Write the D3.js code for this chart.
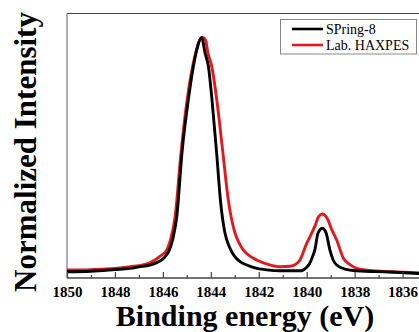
<!DOCTYPE html>
<html>
<head>
<meta charset="utf-8">
<script src="https://cdn.jsdelivr.net/npm/d3@7"></script>
<style>
    html, body { margin: 0; padding: 0; background: #fff; }
    svg { display: block; font-family: "Liberation Serif", "Times New Roman", serif; }
</style>
</head>
<body>
<svg class="xps"></svg>
<script>
// Binding energy (eV) and normalized intensity
const springE = [1850.0, 1849.0, 1848.0, 1847.37, 1847.0, 1846.54, 1846.3, 1846.05, 1845.88, 1845.73,
    1845.58, 1845.42, 1845.2, 1844.94, 1844.73, 1844.59, 1844.38, 1844.24, 1844.1, 1843.95,
    1843.76, 1843.6, 1843.41, 1843.24, 1843.1, 1842.95, 1842.75, 1842.5, 1842.16, 1841.67,
    1841.11, 1840.28, 1840.15, 1840.0, 1839.89, 1839.79, 1839.65, 1839.53, 1839.34, 1839.19,
    1839.03, 1838.9, 1838.75, 1838.4, 1837.91, 1836.52, 1835.31];
const springI = [0.026, 0.028, 0.035, 0.040, 0.046, 0.054, 0.062, 0.075, 0.092, 0.116,
    0.165, 0.255, 0.524, 0.740, 0.879, 0.948, 1.0, 0.936, 0.879, 0.740,
    0.524, 0.324, 0.187, 0.133, 0.104, 0.083, 0.066, 0.054, 0.042, 0.034,
    0.030, 0.030, 0.033, 0.045, 0.058, 0.080, 0.121, 0.186, 0.207, 0.187,
    0.116, 0.076, 0.054, 0.037, 0.030, 0.025, 0.019];

const labE = [1850.0, 1849.0, 1848.0, 1847.37, 1846.83, 1846.55, 1846.33, 1846.1, 1845.84, 1845.68,
    1845.49, 1845.24, 1844.99, 1844.76, 1844.6, 1844.43, 1844.33, 1844.22, 1844.12, 1843.96,
    1843.75, 1843.5, 1843.27, 1842.99, 1842.82, 1842.64, 1842.35, 1842.09, 1841.61, 1841.11,
    1840.7, 1840.45, 1840.28, 1840.0, 1839.82, 1839.65, 1839.51, 1839.35, 1839.2, 1839.11,
    1838.95, 1838.75, 1838.47, 1838.19, 1837.91, 1837.36, 1836.52, 1835.31];
const labI = [0.033, 0.035, 0.040, 0.047, 0.054, 0.063, 0.075, 0.092, 0.116, 0.160,
    0.255, 0.524, 0.740, 0.879, 0.948, 0.996, 1.0, 0.99, 0.936, 0.879,
    0.740, 0.524, 0.324, 0.187, 0.146, 0.116, 0.090, 0.075, 0.057, 0.047,
    0.049, 0.058, 0.075, 0.144, 0.180, 0.218, 0.254, 0.266, 0.256, 0.241,
    0.200, 0.158, 0.082, 0.056, 0.040, 0.031, 0.026, 0.021];

const seriesNames = ["SPring-8", "Lab. HAXPES"];
const seriesColors = ["#000000", "#e4191e"];
const majorTicks = [1850, 1848, 1846, 1844, 1842, 1840, 1838, 1836];
const minorTicks = [1849, 1847, 1845, 1843, 1841, 1839, 1837, 1835];

function makeChart() {
    const svgWidth = 419,
        svgHeight = 332;
    const margin = { top: 13.5, left: 67, bottom: 54 };
    const height = svgHeight - margin.top - margin.bottom;

    const canvas = d3.select(".xps")
        .attr("width", svgWidth)
        .attr("height", svgHeight);

    // Scales (plot frame runs past the right edge of the picture)
    const x = d3.scaleLinear()
        .domain([1850, 1835])
        .range([margin.left, margin.left + 15 * 23.97]);
    const y = d3.scaleLinear()
        .domain([0, 1.1])
        .range([margin.top + height, margin.top]);

    const series = [
        springE.map((e, i) => ({ e: e, v: springI[i] })),
        labE.map((e, i) => ({ e: e, v: labI[i] }))
    ];

    // Frame
    canvas.append("line")
        .attr("x1", margin.left).attr("x2", svgWidth + 5)
        .attr("y1", margin.top).attr("y2", margin.top)
        .attr("stroke", "#444").attr("stroke-width", 1.2);
    canvas.append("line")
        .attr("x1", margin.left).attr("x2", margin.left)
        .attr("y1", margin.top).attr("y2", margin.top + height)
        .attr("stroke", "#777").attr("stroke-width", 1.2);

    // Curves: red first, black on top
    const line = d3.line()
        .x(d => x(d.e))
        .y(d => y(d.v))
        .curve(d3.curveMonotoneX);

    [1, 0].forEach(idx => {
        canvas.append("path")
            .datum(series[idx])
            .attr("fill", "none")
            .attr("stroke", seriesColors[idx])
            .attr("stroke-width", 2.9)
            .attr("stroke-linejoin", "round")
            .attr("d", line);
    });

    // Axes, ticks pointing inward
    const xAxis = canvas.append("g")
        .attr("transform", `translate(0, ${margin.top + height})`)
        .call(d3.axisBottom(x).tickValues(majorTicks).tickSize(-6).tickPadding(8).tickFormat(d3.format("d")));
    xAxis.select(".domain").attr("stroke", "#444").attr("stroke-width", 1.4)
        .attr("d", `M${margin.left},0H${svgWidth + 5}`);
    xAxis.selectAll(".tick line").attr("stroke", "#444").attr("stroke-width", 1.2);
    xAxis.selectAll(".tick text")
        .attr("fill", "#000")
        .style("font-family", "'Liberation Serif', serif")
        .style("font-weight", "bold")
        .style("font-size", "15px");

    const minorAxis = canvas.append("g")
        .attr("transform", `translate(0, ${margin.top + height})`)
        .call(d3.axisBottom(x).tickValues(minorTicks).tickSize(-3).tickFormat(""));
    minorAxis.select(".domain").remove();
    minorAxis.selectAll(".tick line").attr("stroke", "#444").attr("stroke-width", 1.2);

    // Axis labels
    canvas.append("text")
        .attr("x", 245)
        .attr("y", 326)
        .attr("text-anchor", "middle")
        .style("font-weight", "bold")
        .style("font-size", "30px")
        .text("Binding energy (eV)");

    canvas.append("text")
        .attr("transform", "rotate(-90)")
        .attr("x", -152)
        .attr("y", 36)
        .attr("text-anchor", "middle")
        .style("font-weight", "bold")
        .style("font-size", "31px")
        .text("Normalized Intensity");

    // Legend
    const legend = canvas.append("g");
    legend.append("rect")
        .attr("x", 280.5).attr("y", 19.5)
        .attr("width", 136).attr("height", 34.5)
        .attr("fill", "#fff")
        .attr("stroke", "#888").attr("stroke-width", 1);
    seriesNames.forEach((name, i) => {
        const ly = 29 + i * 16;
        legend.append("line")
            .attr("x1", 292).attr("x2", 323)
            .attr("y1", ly).attr("y2", ly)
            .attr("stroke", seriesColors[i]).attr("stroke-width", 2.6);
        legend.append("text")
            .attr("x", 326).attr("y", ly + 4.5)
            .style("font-size", "14px")
            .text(name);
    });
}

document.addEventListener("DOMContentLoaded", makeChart);
</script>
</body>
</html>
